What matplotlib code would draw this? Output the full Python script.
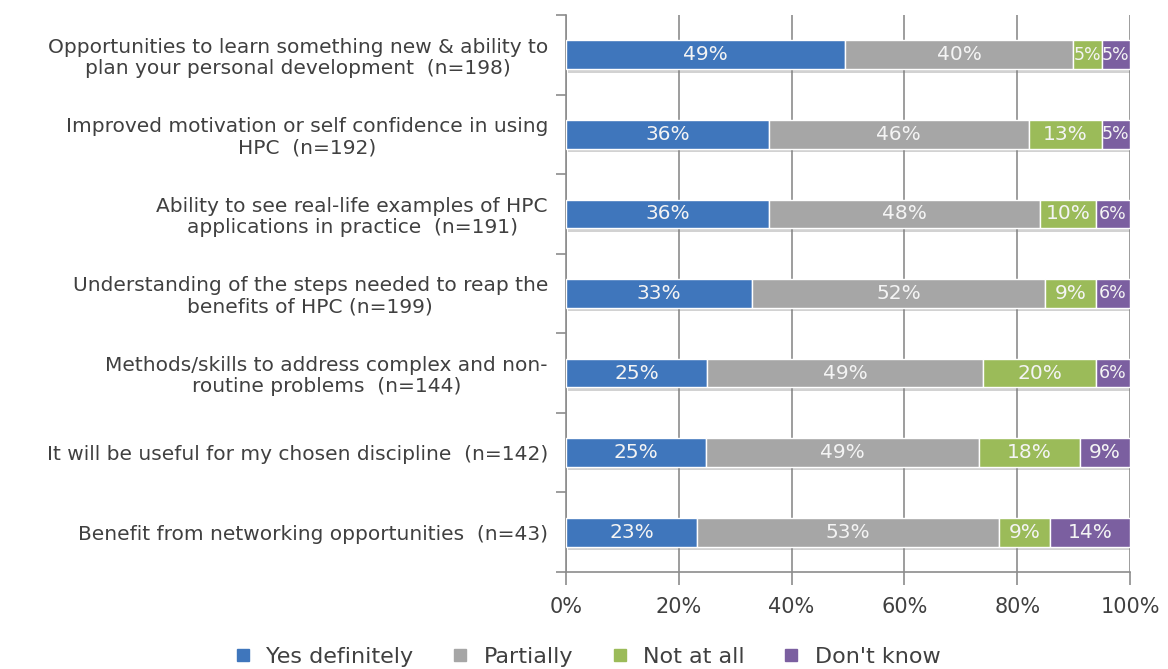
import matplotlib
matplotlib.use("Agg")
import matplotlib.pyplot as plt
import matplotlib.patheffects as pe
from matplotlib.lines import Line2D
import numpy as np

categories = [
    "Opportunities to learn something new & ability to\nplan your personal development  (n=198)",
    "Improved motivation or self confidence in using\nHPC  (n=192)",
    "Ability to see real-life examples of HPC\napplications in practice  (n=191)",
    "Understanding of the steps needed to reap the\nbenefits of HPC (n=199)",
    "Methods/skills to address complex and non-\nroutine problems  (n=144)",
    "It will be useful for my chosen discipline  (n=142)",
    "Benefit from networking opportunities  (n=43)",
]

yes_definitely = [49, 36, 36, 33, 25, 25, 23]
partially = [40, 46, 48, 52, 49, 49, 53]
not_at_all = [5, 13, 10, 9, 20, 18, 9]
dont_know = [5, 5, 6, 6, 6, 9, 14]

series_names = ["Yes definitely", "Partially", "Not at all", "Don't know"]
colors = ["#3F76BC", "#A6A6A6", "#9BBB59", "#7B5FA0"]

plt.rcParams["font.family"] = ["DejaVu Sans"]
text_color = "#404040"
grid_color = "#8C8C8C"

fig = plt.figure(figsize=(11.68, 6.69), dpi=100)
ax = fig.add_axes([0.4846, 0.1450, 0.4829, 0.8326])

data = np.array([yes_definitely, partially, not_at_all, dont_know], dtype=float)
# each row is drawn as a share of its own total (100% stacked)
shares = data / data.sum(axis=0) * 100
y = np.arange(len(categories))

left = np.zeros(len(categories))
shadow = [pe.SimplePatchShadow(offset=(1.5, -2.5), shadow_rgbFace="#7F7F7F", alpha=0.35), pe.Normal()]
for i, name in enumerate(series_names):
    bars = ax.barh(y, shares[i], left=left, height=0.36, color=colors[i],
                   edgecolor="white", linewidth=1.0, zorder=3, label=name)
    for b in bars:
        b.set_path_effects(shadow)
    for j in range(len(categories)):
        # narrow segments get a slightly smaller label so neighbours don't collide
        fs = 12.5 if data[i][j] <= 6 else 14.5
        ax.text(left[j] + shares[i][j] / 2, y[j], f"{int(data[i][j])}%",
                ha="center", va="center", color="#F4F4F4", fontsize=fs, zorder=4)
    left += shares[i]

ax.set_xlim(0, 100)
ax.set_ylim(len(categories) - 0.5, -0.5)

ax.set_xticks(np.arange(0, 101, 20))
ax.set_xticklabels([f"{v}%" for v in range(0, 101, 20)], fontsize=15, color=text_color)
ax.xaxis.grid(True, color=grid_color, linewidth=1.2, zorder=0)
ax.tick_params(axis="x", length=9, width=1.2, color=grid_color, pad=9)

ax.set_yticks(y)
ax.set_yticklabels(categories, fontsize=14.5, color=text_color, ha="right",
                   linespacing=1.15)
ax.set_yticks(np.arange(-0.5, len(categories)), minor=True)
ax.tick_params(axis="y", which="major", length=0, pad=13)
ax.tick_params(axis="y", which="minor", length=7, width=1.2, color=grid_color)
for lbl in ax.get_yticklabels():
    lbl.set_multialignment("center")

for side in ["top", "right"]:
    ax.spines[side].set_visible(False)
for side in ["left", "bottom"]:
    ax.spines[side].set_color(grid_color)
    ax.spines[side].set_linewidth(1.2)

handles = [Line2D([0], [0], marker="s", linestyle="none", markersize=8,
                  markerfacecolor=c, markeredgecolor=c) for c in colors]
fig.legend(handles, series_names, loc="center", bbox_to_anchor=(0.497, 0.018),
           ncol=4, frameon=False, fontsize=16, handletextpad=0.05,
           columnspacing=1.1, labelcolor=text_color)

fig.savefig("out.png", dpi=100)
